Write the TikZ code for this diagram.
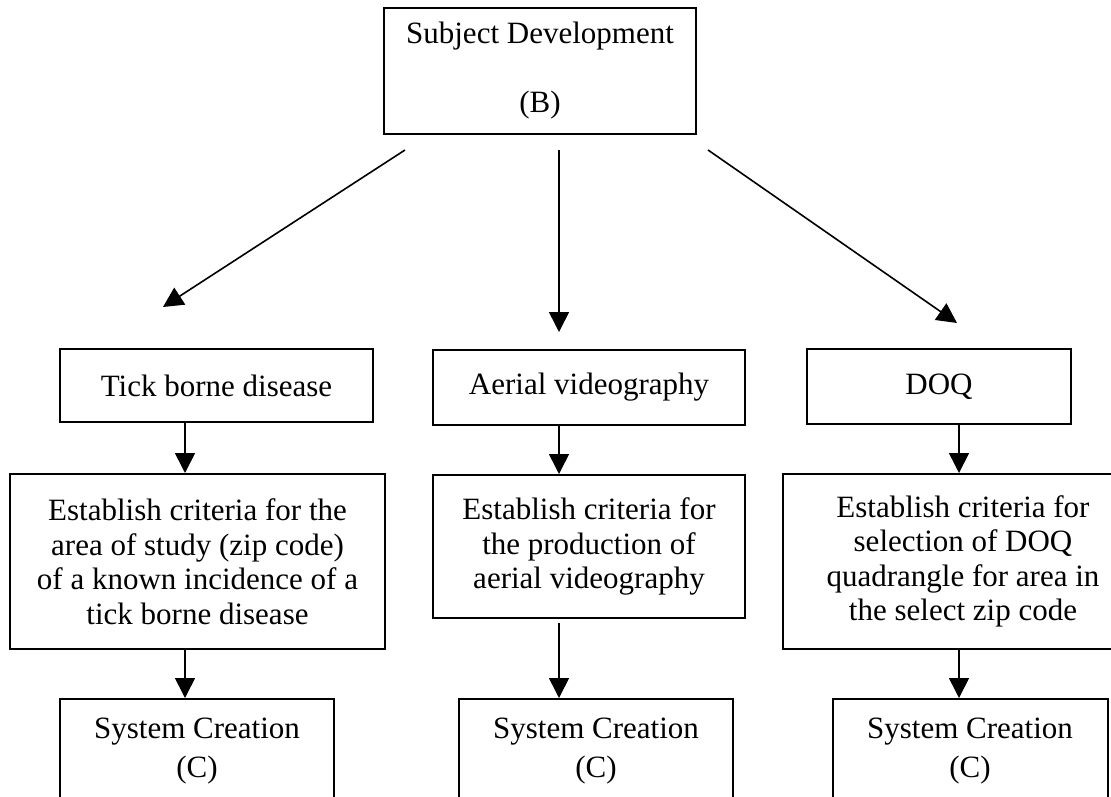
\documentclass[tikz,border=0pt]{standalone}
\usepackage{fontspec}
\setmainfont{Liberation Serif}
\usetikzlibrary{arrows.meta,calc}
\newcommand\chartfont{\fontsize{15.5pt}{17.25pt}\selectfont}

\begin{document}
\begin{tikzpicture}[x=0.5pt,y=-0.5pt,
  box/.style={draw, line width=1pt, inner sep=0pt, align=center, font=\chartfont},
  lbl/.style={inner sep=0pt, align=center, font=\chartfont},
  arr/.style={line width=0.8pt, -{Triangle[length=10pt,width=10pt]}}]

% page area
\fill[white] (0,0) rectangle (1111,796);
\clip (0,0) rectangle (1111,796);

% top box
\node[box, minimum width=156pt, minimum height=63pt] (top) at (540,71)
  {Subject Development\\[17.25pt](B)};

% second row
\node[box, minimum width=156.5pt, minimum height=36.5pt] (tick) at (216.5,385.5) {Tick borne disease};
\node[box, minimum width=156pt, minimum height=37.5pt] (aerial) at (589,387.5) {Aerial videography};
\node[box, minimum width=132pt, minimum height=37.5pt] (doq) at (939,386.5) {DOQ};

% criteria row
\node[box, minimum width=187.5pt, minimum height=87.5pt] (est1) at (197.5,561.5)
  {Establish criteria for the\\area of study (zip code)\\of a known incidence of a\\tick borne disease};
\node[box, minimum width=156pt, minimum height=71.5pt] (est2) at (589,546.5)
  {Establish criteria for\\the production of\\aerial videography};
\node[box, minimum width=180pt, minimum height=87.5pt] (est3) at (963,561.5)
  {Establish criteria for\\selection of DOQ\\quadrangle for area in\\the select zip code};

% system creation row (boxes run past the lower edge)
\node[box, minimum width=137pt, minimum height=80pt] (sys1) at (197,779) {};
\node[box, minimum width=137pt, minimum height=80pt] (sys2) at (596,779) {};
\node[box, minimum width=137.5pt, minimum height=80pt] (sys3) at (970.5,779) {};
\node[lbl] (sys1t) at (197,751) {System Creation\\[2pt](C)};
\node[lbl] (sys2t) at (596,751) {System Creation\\[2pt](C)};
\node[lbl] (sys3t) at (970,751) {System Creation\\[2pt](C)};

% arrow columns
\coordinate (c1) at (185,0);
\coordinate (c2) at (559,0);
\coordinate (c3) at (959,0);

% branches from the top box
\coordinate (d1s) at (405,150);
\coordinate (d1e) at (163,307);
\coordinate (d2s) at (559,150);
\coordinate (d2e) at (559,332);
\coordinate (d3s) at (708,150);
\coordinate (d3e) at (957,323);
\draw[arr] (d1s) -- (d1e);
\draw[arr] (d2s) -- (d2e);
\draw[arr] (d3s) -- (d3e);

% vertical arrows
\draw[arr] (tick.south -| c1) -- (est1.north -| c1);
\draw[arr] (est1.south -| c1) -- (sys1.north -| c1);
\draw[arr] (aerial.south -| c2) -- (est2.north -| c2);
\coordinate (m2) at (559,623);
\draw[arr] (m2) -- (sys2.north -| c2);
\draw[arr] (doq.south -| c3) -- (est3.north -| c3);
\draw[arr] (est3.south -| c3) -- (sys3.north -| c3);
\end{tikzpicture}
\end{document}
